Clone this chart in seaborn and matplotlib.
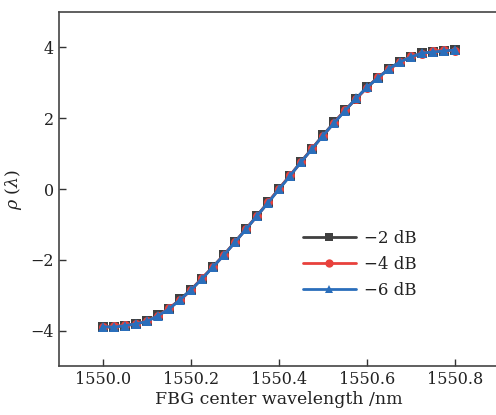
import numpy as np
import pandas as pd
import matplotlib
matplotlib.use("Agg")
import matplotlib.pyplot as plt
import seaborn as sns

# wavelength grid (nm) and rho values
wavelength = [1550.000, 1550.025, 1550.050, 1550.075, 1550.100, 1550.125, 1550.150,
              1550.175, 1550.200, 1550.225, 1550.250, 1550.275, 1550.300, 1550.325,
              1550.350, 1550.375, 1550.400, 1550.425, 1550.450, 1550.475, 1550.500,
              1550.525, 1550.550, 1550.575, 1550.600, 1550.625, 1550.650, 1550.675,
              1550.700, 1550.725, 1550.750, 1550.775, 1550.800]

rho_2db = [-3.90, -3.89, -3.86, -3.80, -3.73, -3.57, -3.38, -3.12, -2.84, -2.53, -2.19,
           -1.86, -1.49, -1.13, -0.75, -0.38, 0.01, 0.38, 0.77, 1.14, 1.52, 1.88,
           2.22, 2.55, 2.88, 3.15, 3.39, 3.60, 3.74, 3.83, 3.88, 3.91, 3.92]
rho_4db = [-3.91, -3.88, -3.85, -3.82, -3.72, -3.59, -3.36, -3.14, -2.86, -2.51, -2.21,
           -1.85, -1.51, -1.12, -0.77, -0.37, 0.00, 0.39, 0.75, 1.15, 1.50, 1.87,
           2.23, 2.54, 2.86, 3.16, 3.38, 3.58, 3.75, 3.82, 3.89, 3.92, 3.91]
rho_6db = [-3.89, -3.90, -3.86, -3.81, -3.74, -3.58, -3.39, -3.13, -2.85, -2.54, -2.20,
           -1.87, -1.50, -1.14, -0.76, -0.39, -0.01, 0.37, 0.76, 1.13, 1.51, 1.86,
           2.21, 2.56, 2.87, 3.14, 3.40, 3.59, 3.73, 3.84, 3.87, 3.90, 3.93]

labels = ["\u22122 dB", "\u22124 dB", "\u22126 dB"]
colors = ["#404040", "#e8413c", "#2a6ebb"]
markers = ["s", "o", "^"]

df = pd.concat([
    pd.DataFrame({"x": wavelength, "y": vals, "atten": lab})
    for vals, lab in zip([rho_2db, rho_4db, rho_6db], labels)
], ignore_index=True)

sns.set_style("ticks")
plt.rcParams["font.family"] = ["DejaVu Serif"]
plt.rcParams["mathtext.fontset"] = "dejavuserif"

fig = plt.figure(figsize=(4.96, 4.15), dpi=100)
ax = fig.add_axes([0.119, 0.118, 0.887, 0.853])

sns.lineplot(data=df, x="x", y="y", hue="atten", style="atten",
             palette=dict(zip(labels, colors)), markers=dict(zip(labels, markers)),
             dashes=False, linewidth=2, markersize=6.5, markeredgewidth=0,
             ax=ax)

ax.set_xlim(1549.9, 1550.9)
ax.set_ylim(-5, 5)
ax.set_xticks([1550.0, 1550.2, 1550.4, 1550.6, 1550.8])
ax.set_xticklabels(["1550.0", "1550.2", "1550.4", "1550.6", "1550.8"])
ax.set_yticks([-4, -2, 0, 2, 4])
ax.set_yticklabels(["\u22124", "\u22122", "0", "2", "4"])
ax.tick_params(direction="in", length=5, width=1, labelsize=11.5, colors="#333333",
               labelcolor="#222222")
for s in ax.spines.values():
    s.set_linewidth(1.2)
    s.set_color("#444444")
ax.spines["right"].set_visible(False)

ax.set_xlabel("FBG center wavelength /nm", fontsize=12.5, color="#222222", labelpad=2)
ax.set_ylabel(r"$\rho\ (\lambda)$", fontsize=12.5, color="#222222", labelpad=5)

leg = ax.legend(loc="upper left", bbox_to_anchor=(0.52, 0.427), frameon=False,
                handlelength=3.2, fontsize=12, labelspacing=0.55, handletextpad=0.5)
for h in leg.legend_handles:
    h.set_markersize(6)
    h.set_markeredgewidth(0)
for t in leg.get_texts():
    t.set_color("#222222")

fig.savefig("out.png", dpi=100)
